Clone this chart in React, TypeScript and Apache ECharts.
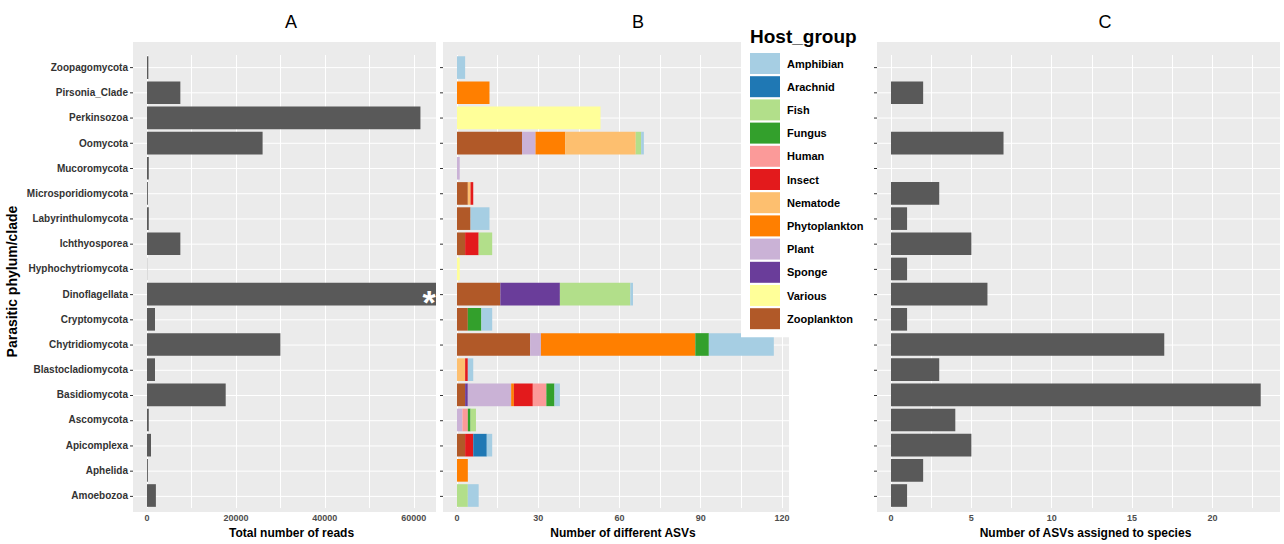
import React, { useEffect, useRef } from "react";
import * as echarts from "echarts";

const phyla = ["Zoopagomycota","Pirsonia_Clade","Perkinsozoa","Oomycota","Mucoromycota","Microsporidiomycota","Labyrinthulomycota","Ichthyosporea","Hyphochytriomycota","Dinoflagellata","Cryptomycota","Chytridiomycota","Blastocladiomycota","Basidiomycota","Ascomycota","Apicomplexa","Aphelida","Amoebozoa"];
const totalReads = [300,7500,61500,26000,400,200,400,7500,50,100000,1800,30000,1800,17700,400,900,200,2000];
const asvSpecies = [0,2,0,7,0,3,1,5,1,6,1,17,3,23,4,5,2,1];

const hostGroups = ["Amphibian","Arachnid","Fish","Fungus","Human","Insect","Nematode","Phytoplankton","Plant","Sponge","Various","Zooplankton"];
const hostColors = ["#A6CEE3","#1F78B4","#B2DF8A","#33A02C","#FB9A99","#E31A1C","#FDBF6F","#FF7F00","#CAB2D6","#6A3D9A","#FFFF99","#B15928"];
// stack order left->right
const stackOrder = ["Zooplankton","Various","Sponge","Plant","Phytoplankton","Nematode","Insect","Human","Fungus","Fish","Arachnid","Amphibian"];
// ASV counts per host group, per phylum (same order as phyla)
const asv: Record<string, number[]> = {
  Zooplankton:  [0,0,0,24,0,4,5,3,0,16,4,27,0,3,0,3,0,0],
  Various:      [0,0,53,0,0,0,0,0,1,0,0,0,0,0,0,0,0,0],
  Sponge:       [0,0,0,0,0,0,0,0,0,22,0,0,0,1,0,0,0,0],
  Plant:        [0,0,0,5,1,0,0,0,0,0,0,4,0,16,2,0,0,0],
  Phytoplankton:[0,12,0,11,0,0,0,0,0,0,0,57,0,1,0,0,4,0],
  Nematode:     [0,0,0,26,0,1,0,0,0,0,0,0,3,0,0,0,0,0],
  Insect:       [0,0,0,0,0,1,0,5,0,0,0,0,1,7,0,3,0,0],
  Human:        [0,0,0,0,0,0,0,0,0,0,0,0,0,5,2,0,0,0],
  Fungus:       [0,0,0,0,0,0,0,0,0,0,5,5,0,3,1,0,0,0],
  Fish:         [0,0,0,2,0,0,0,5,0,26,0,0,0,0,2,0,0,4],
  Arachnid:     [0,0,0,0,0,0,0,0,0,0,0,0,0,0,0,5,0,0],
  Amphibian:    [3,0,0,1,0,0,7,0,0,1,4,24,2,2,0,2,0,4],
};

const FONT = "Liberation Sans, Arial, sans-serif";
const BG = "#EBEBEB";
const nz = (arr: number[]) => arr.map((v) => (v === 0 ? null : v));

export default function App() {
  const ref = useRef<HTMLDivElement>(null);
  useEffect(() => {
    const chart = echarts.init(ref.current!, null, { renderer: "svg" });
    const top = 55, height = 454;
    const grids = [
      { left: 147, top, width: 289, height },
      { left: 457, top, width: 332, height },
      { left: 891, top, width: 389, height },
    ];
    const labelEvery = (step: number) => (v: number) => (Math.abs(v / step - Math.round(v / step)) < 1e-6 ? String(v) : "");
    const xAxis = (gi: number, max: number, interval: number, step: number, name: string) => ({
      type: "value", gridIndex: gi, min: 0, max, interval,
      name, nameLocation: "middle", nameGap: 16,
      nameTextStyle: { fontFamily: FONT, fontWeight: "bold", fontSize: 12, color: "#000" },
      axisLine: { show: false },
      axisTick: { show: false },
      axisLabel: { formatter: labelEvery(step), fontFamily: FONT, fontSize: 9, color: "#4D4D4D", fontWeight: "bold", margin: 5, showMaxLabel: false },
      splitLine: { show: true, lineStyle: { color: "#fff", width: 1 } },
    });
    const yAxis = (gi: number, showLabels: boolean) => ({
      type: "category", gridIndex: gi, data: phyla, inverse: true, offset: 14,
      axisLine: { show: false },
      axisTick: { show: false },
      axisLabel: { show: showLabels, fontFamily: FONT, fontSize: 10, fontWeight: "bold", color: "#333", margin: 5 },
      splitLine: { show: false },
      ...(showLabels ? { name: "Parasitic phylum/clade", nameLocation: "middle", nameGap: 114, nameRotate: 90,
        nameTextStyle: { fontFamily: FONT, fontWeight: "bold", fontSize: 14, color: "#000" } } : {}),
    });
    const rowH = height / phyla.length;
    const hLine = (x1: number, x2: number) => phyla.map((_, i) => ({
      type: "line", z: -5, shape: { x1, x2, y1: top + rowH * (i + 0.5), y2: top + rowH * (i + 0.5) }, style: { stroke: "#fff", lineWidth: 1 },
    }));
    const ticks = (x: number) => phyla.map((_, i) => ({
      type: "line", z: 5, shape: { x1: x - 3, x2: x, y1: top + rowH * (i + 0.5), y2: top + rowH * (i + 0.5) }, style: { stroke: "#333", lineWidth: 1 },
    }));
    const series: any[] = [
      { type: "bar", xAxisIndex: 0, yAxisIndex: 0, data: nz(totalReads), barCategoryGap: "10%", itemStyle: { color: "#595959" } },
      { type: "bar", xAxisIndex: 2, yAxisIndex: 2, data: nz(asvSpecies), barCategoryGap: "10%", itemStyle: { color: "#595959" } },
      ...stackOrder.map((g) => ({
        type: "bar", name: g, stack: "asv", xAxisIndex: 1, yAxisIndex: 1, data: nz(asv[g]), barCategoryGap: "10%",
        itemStyle: { color: hostColors[hostGroups.indexOf(g)] },
      })),
    ];
    chart.setOption({
      animation: false,
      grid: grids,
      xAxis: [
        xAxis(0, 65000, 10000, 20000, "Total number of reads"),
        xAxis(1, 122.6, 15, 30, "Number of different ASVs"),
        xAxis(2, 24.2, 2.5, 5, "Number of ASVs assigned to species"),
      ],
      yAxis: [yAxis(0, true), yAxis(1, false), yAxis(2, false)],
      legend: {
        data: hostGroups, orient: "vertical", left: 741, top: 20,
        padding: [33, 10, 8, 9], backgroundColor: "#fff",
        itemWidth: 30, itemHeight: 21, itemGap: 2.2, icon: "rect",
        textStyle: { fontFamily: FONT, fontSize: 11, fontWeight: "bold", color: "#000", padding: [0, 0, 0, 2] },
        selectedMode: false,
      },
      graphic: [
        { type: "rect", z: -10, shape: { x: 133, y: 42, width: 303, height: 470 }, style: { fill: BG } },
        { type: "rect", z: -10, shape: { x: 443, y: 42, width: 346, height: 470 }, style: { fill: BG } },
        { type: "rect", z: -10, shape: { x: 877, y: 42, width: 403, height: 470 }, style: { fill: BG } },
        ...hLine(133, 436), ...hLine(443, 789), ...hLine(877, 1280),
        ...ticks(133), ...ticks(443), ...ticks(877),
        { type: "text", z: 100, x: 291, y: 22, style: { text: "A", fontFamily: FONT, fontSize: 18, fill: "#000", align: "center", verticalAlign: "middle" } },
        { type: "text", z: 100, x: 638, y: 22, style: { text: "B", fontFamily: FONT, fontSize: 18, fill: "#000", align: "center", verticalAlign: "middle" } },
        { type: "text", z: 100, x: 1105, y: 22, style: { text: "C", fontFamily: FONT, fontSize: 18, fill: "#000", align: "center", verticalAlign: "middle" } },
        { type: "text", z: 100, x: 750, y: 36, style: { text: "Host_group", fontFamily: FONT, fontSize: 19, fontWeight: "bold", fill: "#000", verticalAlign: "middle" } },
        { type: "text", z: 100, x: 429, y: 302, style: { text: "*", fontFamily: FONT, fontSize: 34, fontWeight: "bold", fill: "#fff", align: "center", verticalAlign: "middle" } },
      ],
      series,
    });
    return () => chart.dispose();
  }, []);
  return <div ref={ref} style={{ width: 1284, height: 544, position: "absolute", left: 0, top: 0 }} />;
}
